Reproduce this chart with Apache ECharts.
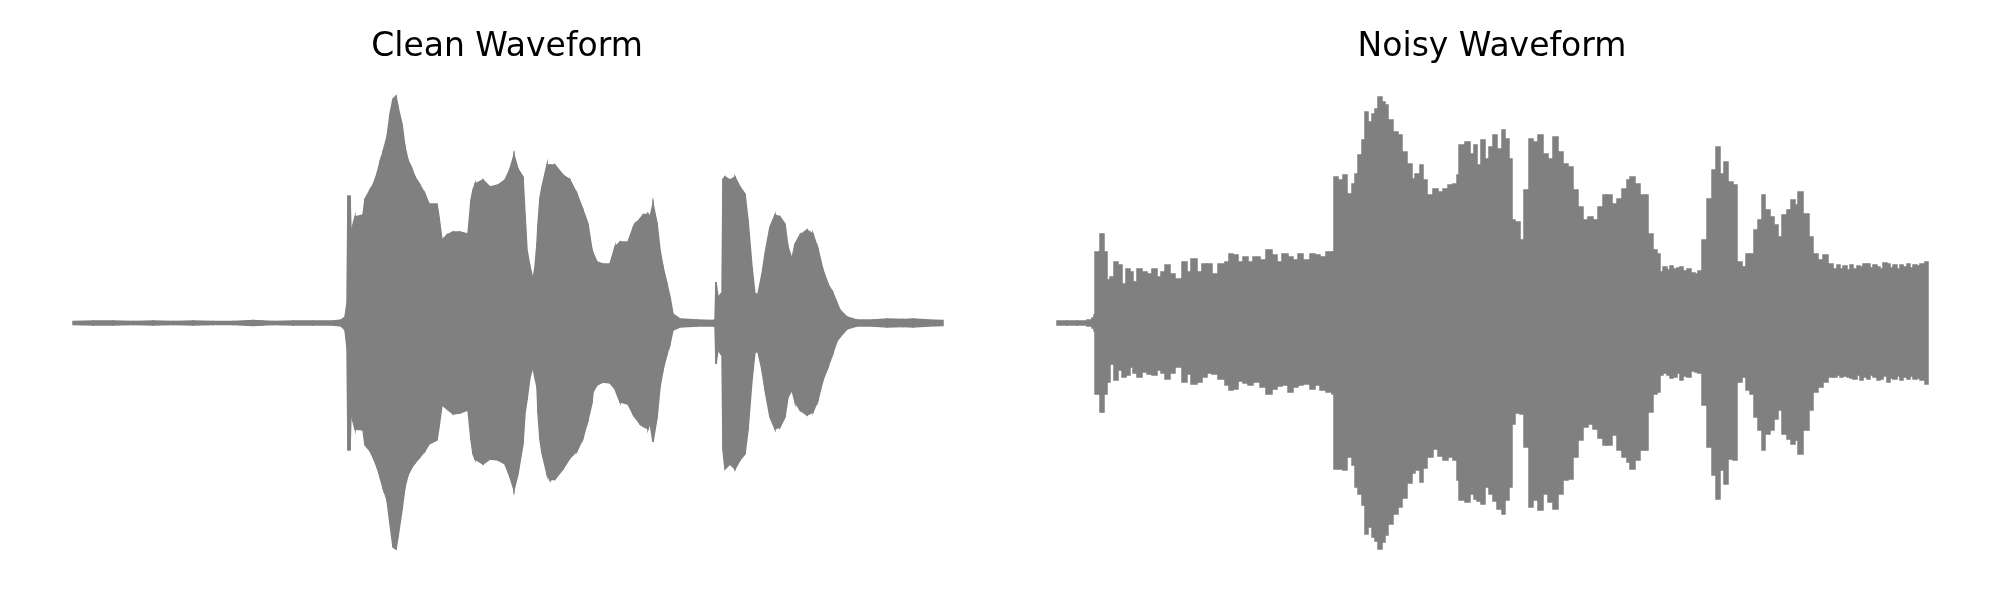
<!DOCTYPE html>
<html>
<head>
<meta charset="utf-8">
<script src="https://cdn.jsdelivr.net/npm/echarts@6/dist/echarts.min.js"></script>
<style>
html,body{margin:0;padding:0;background:#fff;}
#chart{width:2000px;height:600px;}
</style>
</head>
<body>
<div id="chart"></div>
<script>
// Titles
const titles = ["Clean Waveform", "Noisy Waveform"];

// Clean waveform envelope: time frame, upper and lower amplitude (arbitrary units)
const cleanTime = [0,20,40,60,80,100,120,140,160,180,190,200,220,240,260,268,272,274,275,277,278,282,290,292,297,300,304,307,310,314,317,320,323,325,329,332,335,339,342,347,352,356,364,366,369,374,380,387,395,398,400,402,410,417,425,432,437,441,445,450,452,454,457,460,462,464,465,467,469,474,477,482,490,497,504,510,515,519,520,524,530,537,542,547,555,560,562,567,570,575,577,580,584,587,590,594,597,600,607,624,640,642,643,645,648,649,650,652,657,662,667,672,675,679,682,685,689,692,697,702,707,712,715,719,722,727,734,740,745,750,755,760,764,767,774,784,800,814,830,840,855,870];
const cleanUpper = [1.5,2,2,1.5,2,1.5,2,1.5,1.5,2.5,2,1.5,2,2,2,3,6,20,127,127,91,106,108,124,133,138,149,161,171,186,209,224,227,216,199,176,163,154,146,138,129,119,119,106,83,88,91,91,89,123,133,139,143,136,138,143,154,168,154,146,109,73,56,44,56,80,99,125,136,158,158,158,148,143,129,113,99,73,70,61,59,59,76,81,81,95,99,104,108,109,106,119,100,73,56,39,26,9,4,3,2.5,3,41,26,29,29,144,146,143,146,136,129,103,56,29,29,49,69,96,108,106,99,76,64,79,88,93,89,74,53,39,30,20,13,6,3,3,4,3.5,4,3,2.5];
const cleanLower = [-1.5,-2,-2,-1.5,-2,-1.5,-2,-1.5,-1.5,-2.5,-2,-1.5,-2,-2,-2,-3,-7,-25,-127,-127,-91,-106,-107,-122,-128,-134,-144,-154,-165,-177,-201,-224,-226,-214,-187,-164,-152,-144,-140,-134,-128,-121,-117,-104,-82,-86,-91,-90,-87,-117,-131,-136,-141,-136,-137,-141,-154,-167,-151,-121,-90,-77,-54,-44,-55,-64,-90,-117,-130,-151,-157,-156,-146,-135,-128,-115,-97,-80,-69,-62,-59,-60,-66,-79,-81,-91,-94,-101,-103,-106,-100,-119,-95,-64,-47,-31,-21,-7,-4,-3,-3,-3,-41,-27,-31,-31,-127,-146,-141,-146,-137,-131,-107,-57,-29,-29,-47,-67,-94,-106,-104,-94,-74,-67,-79,-87,-92,-89,-77,-57,-44,-30,-18,-14,-6,-3,-3,-4,-3.5,-4,-3,-2.5];

// Noisy waveform envelope
const noisyTime = [0,10,20,30,35,37,38,42,43,45,47,50,53,57,61,65,69,73,76,80,85,90,95,100,104,108,113,118,125,130,134,140,145,150,155,161,168,172,176,181,186,191,196,203,209,215,220,225,231,236,241,246,253,258,263,269,275,277,281,286,290,295,298,301,305,308,311,315,318,321,325,328,331,336,341,345,350,355,358,363,366,370,376,381,386,391,396,400,402,408,413,417,420,424,428,432,436,440,445,448,452,455,458,463,467,472,476,481,486,491,496,501,506,511,516,521,526,531,536,541,546,550,555,560,565,570,573,578,583,588,591,596,600,603,606,610,613,616,620,623,626,630,634,638,641,645,650,655,659,663,667,671,676,680,685,689,693,697,701,705,708,713,717,721,725,730,734,738,741,746,752,756,761,766,771,776,780,783,786,790,793,796,800,803,806,810,813,816,820,823,826,830,833,836,840,843,846,850,853,856,860,863,868,871];
const noisyUpper = [2,2,2,3,5,8,71,71,89,89,71,43,46,61,58,39,54,51,41,54,51,49,54,46,51,58,49,44,61,51,64,51,59,59,49,59,61,69,68,61,66,61,66,63,73,68,61,69,66,63,69,63,69,68,66,71,71,146,143,148,129,139,149,168,183,211,201,209,214,226,221,218,203,191,188,171,159,144,149,158,143,128,134,131,134,138,139,148,178,181,169,178,158,183,164,176,188,174,193,184,164,103,101,83,133,184,181,188,169,164,186,171,159,156,133,116,103,106,103,116,128,128,119,124,134,143,146,139,128,128,89,73,69,51,56,53,57,54,55,56,52,54,50,49,52,83,124,153,176,149,161,141,138,61,56,69,69,93,103,128,113,106,98,86,108,113,123,118,131,109,86,69,63,68,59,54,58,54,57,53,58,54,57,56,59,59,55,58,56,54,60,59,55,58,54,58,56,59,55,58,57,59,61,41];
const noisyLower = [-2,-2,-2,-3,-5,-8,-71,-71,-89,-89,-71,-59,-41,-57,-47,-54,-52,-44,-50,-54,-49,-51,-52,-47,-50,-56,-50,-44,-59,-51,-61,-59,-54,-50,-51,-56,-62,-67,-66,-58,-60,-62,-59,-64,-71,-66,-63,-62,-69,-64,-62,-61,-66,-62,-67,-69,-71,-146,-146,-147,-134,-142,-164,-171,-182,-211,-204,-214,-218,-226,-219,-212,-201,-191,-184,-175,-160,-150,-147,-159,-145,-134,-126,-133,-137,-134,-137,-157,-177,-179,-171,-176,-178,-181,-164,-171,-178,-186,-191,-177,-164,-101,-90,-91,-124,-184,-177,-187,-171,-179,-186,-171,-157,-156,-134,-117,-104,-101,-106,-115,-122,-122,-112,-127,-134,-139,-146,-137,-127,-127,-89,-71,-69,-52,-50,-52,-55,-54,-50,-57,-53,-54,-48,-49,-50,-82,-124,-152,-176,-147,-161,-136,-137,-59,-54,-67,-71,-94,-107,-127,-111,-107,-96,-87,-111,-116,-121,-117,-131,-107,-87,-69,-64,-59,-54,-54,-52,-54,-53,-54,-55,-56,-52,-57,-54,-56,-52,-54,-57,-56,-53,-59,-55,-56,-53,-57,-54,-56,-53,-56,-55,-57,-61,-41];

const GRAY = '#808080';

function makeSeries(idx, time, upper, lower, stepped) {
  const data = time.map((t, i) => [t, upper[i], lower[i]]);
  return {
    type: 'custom',
    xAxisIndex: idx,
    yAxisIndex: idx,
    data: data,
    silent: true,
    animation: false,
    encode: { x: 0, y: [1, 2] },
    renderItem: function (params, api) {
      const i = params.dataIndex;
      if (i >= time.length - 1) return;
      const t0 = time[i], t1 = time[i + 1];
      let pts;
      if (stepped) {
        pts = [api.coord([t0, upper[i]]), api.coord([t1, upper[i]]),
               api.coord([t1, lower[i]]), api.coord([t0, lower[i]])];
      } else {
        pts = [api.coord([t0, upper[i]]), api.coord([t1, upper[i + 1]]),
               api.coord([t1, lower[i + 1]]), api.coord([t0, lower[i]])];
      }
      return {
        type: 'polygon',
        shape: { points: pts },
        style: { fill: GRAY, stroke: GRAY, lineWidth: 1.5, lineJoin: 'miter' }
      };
    }
  };
}

const chart = echarts.init(document.getElementById('chart'), null, { renderer: 'canvas' });
const option = {
  backgroundColor: '#ffffff',
  animation: false,
  grid: [
    { left: 73, width: 870, top: 83, height: 480 },
    { left: 1057, width: 871, top: 83, height: 480 }
  ],
  xAxis: [
    { type: 'value', gridIndex: 0, min: 0, max: 870, show: false },
    { type: 'value', gridIndex: 1, min: 0, max: 871, show: false }
  ],
  yAxis: [
    { type: 'value', gridIndex: 0, min: -240, max: 240, show: false },
    { type: 'value', gridIndex: 1, min: -240, max: 240, show: false }
  ],
  graphic: [
    { type: 'text', x: 507, y: 47, style: { text: titles[0], font: '33px "DejaVu Sans"', fill: '#000', align: 'center', verticalAlign: 'middle' } },
    { type: 'text', x: 1492, y: 47, style: { text: titles[1], font: '33px "DejaVu Sans"', fill: '#000', align: 'center', verticalAlign: 'middle' } }
  ],
  series: [
    makeSeries(0, cleanTime, cleanUpper, cleanLower, false),
    makeSeries(1, noisyTime, noisyUpper, noisyLower, true)
  ]
};
chart.setOption(option);
</script>
</body>
</html>
